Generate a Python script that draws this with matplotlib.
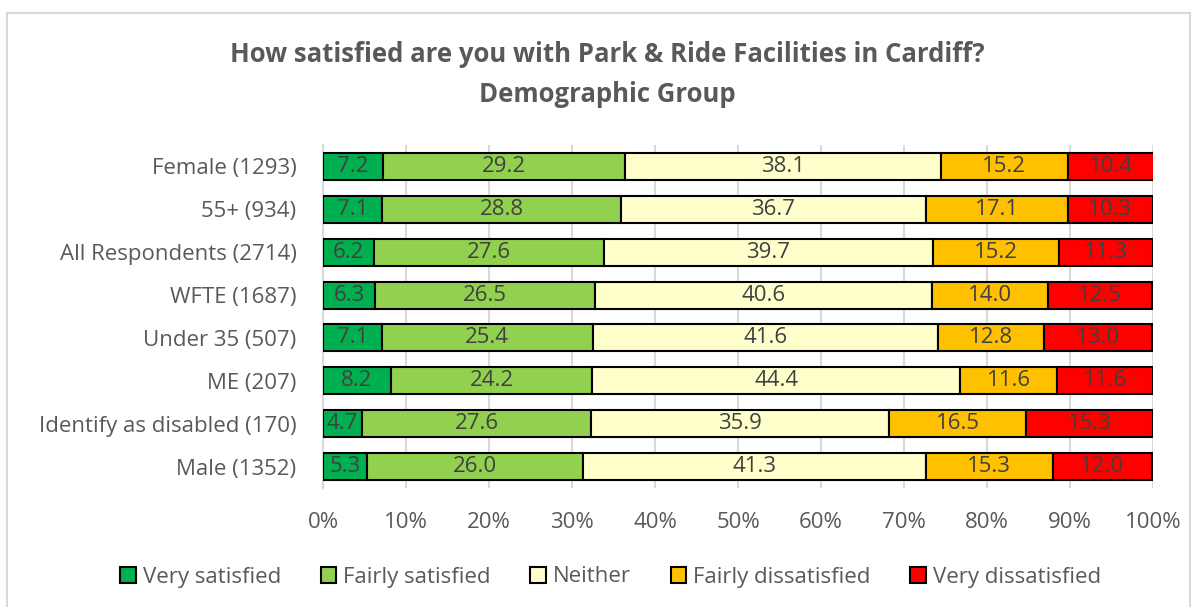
import matplotlib.pyplot as plt
from matplotlib.patches import Rectangle
import numpy as np

plt.rcParams['font.family'] = ['Open Sans', 'DejaVu Sans']

# groups listed top to bottom
groups = ["Female (1293)", "55+ (934)", "All Respondents (2714)", "WFTE (1687)",
          "Under 35 (507)", "ME (207)", "Identify as disabled (170)", "Male (1352)"]
series = ["Very satisfied", "Fairly satisfied", "Neither",
          "Fairly dissatisfied", "Very dissatisfied"]
very_sat = [7.2, 7.1, 6.2, 6.3, 7.1, 8.2, 4.7, 5.3]
fairly_sat = [29.2, 28.8, 27.6, 26.5, 25.4, 24.2, 27.6, 26.0]
neither = [38.1, 36.7, 39.7, 40.6, 41.6, 44.4, 35.9, 41.3]
fairly_dis = [15.2, 17.1, 15.2, 14.0, 12.8, 11.6, 16.5, 15.3]
very_dis = [10.4, 10.3, 11.3, 12.5, 13.0, 11.6, 15.3, 12.0]
colors = ["#00B050", "#92D050", "#FFFFCC", "#FFC000", "#FF0000"]

txt = "#595959"
fig = plt.figure(figsize=(11.97, 6.07), dpi=100)
fig.patches.append(Rectangle((7 / 1197, -0.01), 1183 / 1197, 1 - 13 / 607 + 0.01,
                             transform=fig.transFigure, fill=False,
                             edgecolor="#d9d9d9", linewidth=1.5))
ax = fig.add_axes([323 / 1197, 1 - 488 / 607, 830 / 1197, 343 / 607])

y = np.arange(len(groups))
left = np.zeros(len(groups))
for name, vals, col in zip(series, [very_sat, fairly_sat, neither, fairly_dis, very_dis], colors):
    vals = np.array(vals)
    bars = ax.barh(y, vals, left=left, height=0.63, color=col, edgecolor="black",
                   linewidth=1.5, label=name, zorder=3)
    for b, v in zip(bars, vals):
        ax.text(b.get_x() + b.get_width() / 2, b.get_y() + b.get_height() / 2,
                f"{v:.1f}", ha="center", va="center", fontsize=16,
                color="#404040", zorder=4)
    left += vals

ax.set_xlim(0, 100)
ax.set_ylim(len(groups) - 0.5, -0.5)
ax.set_yticks(y)
ax.set_yticklabels(groups, fontsize=16, color=txt)
ax.set_xticks(range(0, 101, 10))
ax.set_xticklabels([f"{t}%" for t in range(0, 101, 10)], fontsize=16, color=txt)
ax.tick_params(length=0)
ax.tick_params(axis="y", pad=19)
ax.tick_params(axis="x", pad=17)
ax.grid(axis="x", color="#d9d9d9", linewidth=1.5, zorder=0)
for s in ["top", "right", "bottom"]:
    ax.spines[s].set_visible(False)
ax.spines["left"].set_color("#d9d9d9")
ax.spines["left"].set_linewidth(1.5)

fig.text(0.507, 1 - 55 / 607, "How satisfied are you with Park & Ride Facilities in Cardiff?",
         ha="center", va="center", fontsize=18.5, fontweight="bold", color=txt)
fig.text(0.507, 1 - 95 / 607, "Demographic Group",
         ha="center", va="center", fontsize=18.5, fontweight="bold", color=txt)

fig.legend(loc="center", bbox_to_anchor=(0.51, 1 - 577 / 607), ncol=5, frameon=False,
           fontsize=16, labelcolor=txt, handlelength=0.7, handleheight=0.7,
           handletextpad=0.3, columnspacing=1.8)

fig.savefig("out.png", dpi=100)
